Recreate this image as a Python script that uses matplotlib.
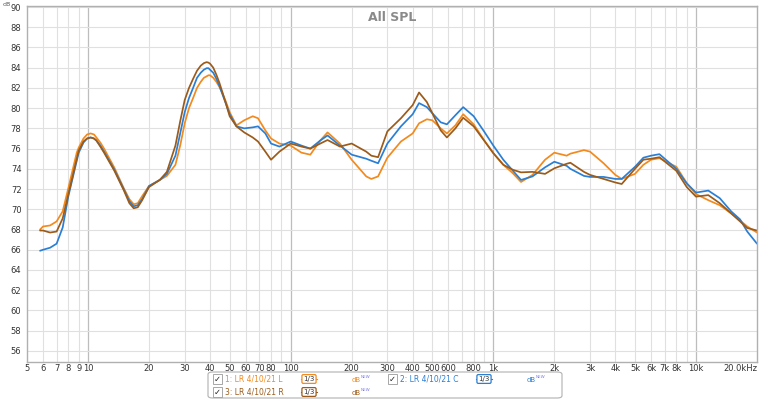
import matplotlib
matplotlib.use("Agg")
import matplotlib.pyplot as plt
from matplotlib.lines import Line2D
from matplotlib.patches import FancyBboxPatch

# frequências (Hz) comuns às três medições
freqs = [5.8, 6.0, 6.5, 7.0, 7.5, 8.0, 8.8, 9.0, 9.5, 9.9, 10.3, 10.7, 11, 11.5, 12, 13.5, 15,
         16.0, 16.8, 17.6, 18.5, 20, 22.6, 24.5, 27, 28.5, 30, 31.5, 33, 34.5, 36, 37.3, 38.5,
         39.3, 40, 41.5, 43, 44.5, 46, 48, 50, 54, 59, 65, 69, 75, 80,
         88, 100, 113, 125, 140, 152, 175, 200, 236, 250, 270, 300, 350, 400, 430, 470,
         500, 550, 590, 650, 710, 800, 900, 1000, 1120, 1250, 1370, 1560, 1800, 2000,
         2300, 2400, 2800, 3000, 3500, 4000, 4300, 5000, 5500, 6000, 6600, 8000, 9000,
         10000, 11500, 13100, 14900, 16500, 17900, 20000]

spl_l = [68.0, 68.3, 68.4, 68.8, 69.8, 72.1, 75.6, 76.1, 77.0, 77.4, 77.5, 77.4, 77.1, 76.6, 76.0, 74.1, 72.1,
         71.0, 70.5, 70.6, 71.3, 72.3, 72.9, 73.3, 74.4, 76.3, 78.5, 80.0, 81.0, 82.0, 82.6, 83.0, 83.15,
         83.25, 83.25, 83.0, 82.6, 82.1, 81.5, 80.6, 79.6, 78.3, 78.8, 79.2, 79.0, 77.8, 77.0,
         76.5, 76.3, 75.6, 75.4, 76.8, 77.6, 76.5, 74.9, 73.25, 73.0, 73.25, 75.1, 76.7, 77.5, 78.5, 78.9,
         78.8, 78.0, 77.5, 78.3, 79.4, 78.4, 76.85, 75.55, 74.4, 73.55, 72.7, 73.4, 74.9, 75.6,
         75.3, 75.5, 75.85, 75.7, 74.55, 73.4, 73.0, 73.5, 74.4, 74.9, 75.05, 74.2, 72.6,
         71.5, 70.9, 70.4, 69.6, 68.9, 68.3, 67.7]

spl_c = [65.9, 66.0, 66.2, 66.6, 68.2, 71.3, 74.8, 75.6, 76.6, 77.0, 77.1, 77.0, 76.8, 76.3, 75.7, 73.9, 72.0,
         70.8, 70.3, 70.4, 71.0, 72.3, 72.9, 73.5, 75.3, 77.5, 79.6, 81.0, 82.0, 83.0, 83.5, 83.8, 83.95,
         83.95, 83.8, 83.5, 82.9, 82.2, 81.4, 80.4, 79.4, 78.2, 78.0, 78.1, 78.2, 77.5, 76.5,
         76.2, 76.7, 76.3, 76.0, 76.8, 77.3, 76.3, 75.4, 75.0, 74.8, 74.55, 76.5, 78.2, 79.4, 80.5, 80.1,
         79.5, 78.6, 78.4, 79.3, 80.1, 79.2, 77.7, 76.3, 74.9, 73.8, 72.9, 73.25, 74.15, 74.7,
         74.3, 74.0, 73.3, 73.2, 73.2, 73.0, 73.0, 74.2, 75.1, 75.3, 75.45, 74.0, 72.55,
         71.65, 71.85, 71.1, 69.8, 69.0, 67.8, 66.6]

spl_r = [67.9, 67.9, 67.7, 67.8, 69.1, 71.5, 75.0, 75.8, 76.7, 77.0, 77.1, 77.0, 76.8, 76.2, 75.6, 73.8, 71.9,
         70.6, 70.1, 70.2, 70.9, 72.2, 72.9, 73.7, 76.3, 78.7, 80.8, 82.0, 82.9, 83.7, 84.2, 84.45, 84.55,
         84.5, 84.4, 84.0, 83.3, 82.5, 81.6, 80.4, 79.2, 78.2, 77.6, 77.1, 76.7, 75.7, 74.9,
         75.7, 76.5, 76.2, 76.0, 76.5, 76.85, 76.2, 76.5, 75.7, 75.3, 75.15, 77.7, 79.0, 80.3, 81.55, 80.6,
         79.5, 77.8, 77.1, 78.0, 79.05, 78.2, 76.8, 75.55, 74.4, 73.9, 73.65, 73.7, 73.5, 74.05,
         74.5, 74.6, 73.7, 73.4, 73.0, 72.65, 72.5, 74.0, 74.9, 75.0, 75.15, 73.8, 72.2,
         71.25, 71.4, 70.6, 69.6, 68.8, 68.15, 67.9]

nomes = ["1: LR 4/10/21 L", "2: LR 4/10/21 C", "3: LR 4/10/21 R"]
cores = ["#f28a1e", "#2a7fd4", "#9b5b1b"]

x_ticks = [5, 6, 7, 8, 9, 10, 20, 30, 40, 50, 60, 70, 80, 100, 200, 300, 400, 500, 600, 800,
           1000, 2000, 3000, 4000, 5000, 6000, 7000, 8000, 10000, 20000]
x_labels = ["5", "6", "7", "8", "9", "10", "20", "30", "40", "50", "60", "70", "80", "100",
            "200", "300", "400", "500", "600", "800", "1k", "2k", "3k", "4k", "5k", "6k",
            "7k", "8k", "10k", "20.0kHz"]
y_ticks = list(range(56, 91, 2))

W, H = 770, 400


def px(x, y):
    return x / W, 1 - y / H


fig = plt.figure(figsize=(7.7, 4.0), dpi=100)
ax = fig.add_axes([27 / W, 1 - 362 / H, 730 / W, 356 / H])
ax.set_xscale("log")
ax.set_xlim(5, 20000)
ax.set_ylim(54.9, 90.1)

# grelha ao estilo REW
for dec in [10, 100, 1000, 10000]:
    ax.axvline(dec, color="#bdbdbd", lw=0.9, zorder=0)
for dec in [1, 10, 100, 1000]:
    for m in range(2, 10):
        f = dec * m
        if 5 < f < 20000 and f not in (10, 100, 1000, 10000):
            ax.axvline(f, color="#e0e0e0", lw=0.8, zorder=0)
for v in y_ticks:
    ax.axhline(v, color="#e0e0e0", lw=0.8, zorder=0)

for serie, cor in zip([spl_l, spl_c, spl_r], cores):
    ax.plot(freqs, serie, color=cor, lw=1.25, solid_capstyle="round", solid_joinstyle="round")

ax.set_xticks(x_ticks)
ax.set_xticklabels(x_labels)
ax.xaxis.set_minor_locator(matplotlib.ticker.NullLocator())
ax.set_yticks(y_ticks)
ax.tick_params(length=0, labelsize=6, colors="#333333")
ax.tick_params(axis="x", pad=1.5)
ax.tick_params(axis="y", pad=4)
ax.get_xticklabels()[-1].set_horizontalalignment("right")
ax.get_xticklabels()[-1].set_x(20000)
for s in ax.spines.values():
    s.set_color("#b0b0b0")
    s.set_linewidth(1.0)

ax.text(0.5, 0.985, "All SPL", transform=ax.transAxes, ha="center", va="top",
        fontsize=9, fontweight="bold", color="#8a8a8a")
fig.text(*px(3, 4), "dB", fontsize=4.5, color="#555555", va="center")

# legenda desenhada à mão
caixa = FancyBboxPatch(px(208, 398), 354 / W, 26 / H, boxstyle="round,pad=0,rounding_size=0.006",
                       transform=fig.transFigure, fc="white", ec="#b0b0b0", lw=0.8)
fig.patches.append(caixa)

entradas = [(0, 214, 379), (1, 389, 379), (2, 214, 392)]
for i, x0, y0 in entradas:
    cor = cores[i]
    fig.text(*px(x0, y0), "\u2713", fontsize=6, color="#222222", va="center", ha="left",
             bbox=dict(boxstyle="square,pad=0.1", fc="white", ec="#999999", lw=0.6))
    fig.text(*px(x0 + 11, y0), nomes[i], fontsize=5.5, color=cor, va="center", ha="left")
    bx = x0 + 95
    fig.lines.append(Line2D([(bx - 8) / W, (bx + 8) / W], [1 - y0 / H, 1 - y0 / H],
                            transform=fig.transFigure, color=cor, lw=0.8))
    fig.text(*px(bx, y0), "1/3", fontsize=5, color="#333333", va="center", ha="center",
             bbox=dict(boxstyle="round,pad=0.2", fc="white", ec=cor, lw=0.9))
    fig.text(*px(x0 + 138, y0 + 1), "dB", fontsize=5, color=cor, va="center", ha="left")
    fig.text(*px(x0 + 147, y0 - 2), "NEW", fontsize=3, color="#7b7bf0", va="center", ha="left")

fig.savefig("out.png", dpi=100)
